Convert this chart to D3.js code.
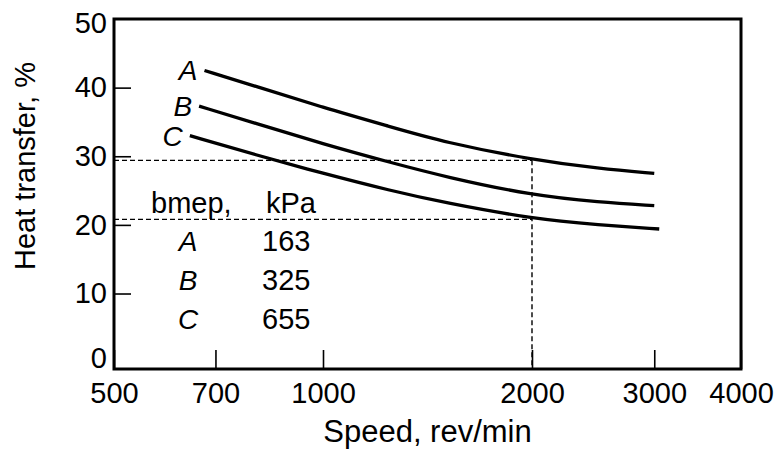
<!DOCTYPE html>
<html>
<head>
<meta charset="utf-8">
<script src="https://cdn.jsdelivr.net/npm/d3@7"></script>
<style>
  body { margin: 0; background: #fff; }
  text { font-family: "Liberation Sans", Arial, sans-serif; fill: #000; }
</style>
</head>
<body>
<div id="chart"></div>
<script>
// curve values (speed in rev/min, heat transfer in %)
var speedsA = [675, 800, 1000, 1250, 1500, 2000, 2500, 3000]
var heatA = [42.5, 40.2, 37.1, 34.3, 32.0, 29.5, 28.2, 27.5]
var speedsB = [663, 800, 1000, 1250, 1500, 2000, 2500, 3000]
var heatB = [37.3, 34.8, 31.8, 29.1, 27.0, 24.3, 23.3, 22.8]
var speedsC = [643, 800, 1000, 1250, 1500, 2000, 2500, 3050]
var heatC = [33.0, 30.2, 27.5, 25.0, 23.2, 20.9, 20.0, 19.4]

var curveNames = ['A', 'B', 'C']
var bmep = [163, 325, 655]

var xTicks = [500, 700, 1000, 2000, 3000, 4000]
var yTicks = [0, 10, 20, 30, 40, 50]

// dashed read-off lines at 2000 rev/min
var refSpeed = 2000
var refLevels = [29.4, 20.8]

var width = 778
var height = 450
var margin = { top: 19, right: 37, bottom: 81, left: 114 }

var svg = d3.select('#chart').append('svg')
  .attr('width', width)
  .attr('height', height)

var x = d3.scaleLog()
  .domain([500, 4000])
  .range([margin.left, width - margin.right])

// the frame bottom sits a little below the zero line
var y = d3.scaleLinear()
  .domain([-1, 50])
  .range([height - margin.bottom, margin.top])

// x axis, ticks point up into the plot
var xAxis = svg.append('g')
  .attr('transform', 'translate(0,' + y(-1) + ')')
  .call(d3.axisBottom(x).tickValues(xTicks).tickFormat(d3.format('d'))
    .tickSize(-19).tickPadding(13))
xAxis.select('.domain').remove()
xAxis.selectAll('line').attr('stroke', '#000').attr('stroke-width', 1.6)
xAxis.selectAll('text').attr('font-size', 29).attr('fill', '#000')

// y axis, ticks point right into the plot
var yAxis = svg.append('g')
  .attr('transform', 'translate(' + x(500) + ',0)')
  .call(d3.axisLeft(y).tickValues(yTicks).tickSize(-17).tickPadding(7))
yAxis.select('.domain').remove()
yAxis.selectAll('line')
  .attr('stroke', '#000').attr('stroke-width', 1.6)
  .attr('display', function (d) { return d === 0 || d === 50 ? 'none' : null })
yAxis.selectAll('text').attr('font-size', 29).attr('fill', '#000')
  .attr('dy', function (d) { return d === 0 ? '0.18em' : (d === 50 ? '0.45em' : '0.32em') })

// dashed guide lines
var dash = svg.append('g')
  .attr('stroke', '#000')
  .attr('stroke-width', 1.4)
  .attr('stroke-dasharray', '5,3')
  .attr('fill', 'none')

refLevels.forEach(function (v) {
  dash.append('line')
    .attr('x1', x(500)).attr('x2', x(refSpeed))
    .attr('y1', y(v)).attr('y2', y(v))
})
dash.append('line')
  .attr('x1', x(refSpeed)).attr('x2', x(refSpeed))
  .attr('y1', y(d3.max(refLevels))).attr('y2', y(-1))

// frame
svg.append('rect')
  .attr('x', x(500))
  .attr('y', y(50))
  .attr('width', x(4000) - x(500))
  .attr('height', y(-1) - y(50))
  .attr('fill', 'none')
  .attr('stroke', '#000')
  .attr('stroke-width', 3)

var series = [
  { name: 'A', speeds: speedsA, heat: heatA },
  { name: 'B', speeds: speedsB, heat: heatB },
  { name: 'C', speeds: speedsC, heat: heatC }
]

var line = d3.line()
  .x(function (d) { return x(d[0]) })
  .y(function (d) { return y(d[1]) })
  .curve(d3.curveBasis)

series.forEach(function (s) {
  var pts = d3.zip(s.speeds, s.heat)
  svg.append('path')
    .datum(pts)
    .attr('d', line)
    .attr('fill', 'none')
    .attr('stroke', '#000')
    .attr('stroke-width', 3.3)

  // curve letter just before the start of the line
  svg.append('text')
    .attr('x', x(pts[0][0]) - 7)
    .attr('y', y(pts[0][1]) + 10)
    .attr('text-anchor', 'end')
    .attr('font-size', 28)
    .attr('font-style', 'italic')
    .text(s.name)
})

// bmep table
var table = svg.append('g')
table.append('text')
  .attr('x', 151).attr('y', 213)
  .attr('font-size', 29)
  .text('bmep,')
table.append('text')
  .attr('x', 266).attr('y', 213)
  .attr('font-size', 29)
  .text('kPa')

curveNames.forEach(function (n, i) {
  var rowY = 251 + i * 39
  table.append('text')
    .attr('x', 188).attr('y', rowY)
    .attr('text-anchor', 'middle')
    .attr('font-size', 28)
    .attr('font-style', 'italic')
    .text(n)
  table.append('text')
    .attr('x', 262).attr('y', rowY)
    .attr('font-size', 29)
    .text(bmep[i])
})

// axis titles
svg.append('text')
  .attr('x', (x(500) + x(4000)) / 2)
  .attr('y', 442)
  .attr('text-anchor', 'middle')
  .attr('font-size', 31)
  .text('Speed, rev/min')

svg.append('text')
  .attr('transform', 'translate(35,166) rotate(-90)')
  .attr('text-anchor', 'middle')
  .attr('font-size', 29)
  .text('Heat transfer, %')
</script>
</body>
</html>
